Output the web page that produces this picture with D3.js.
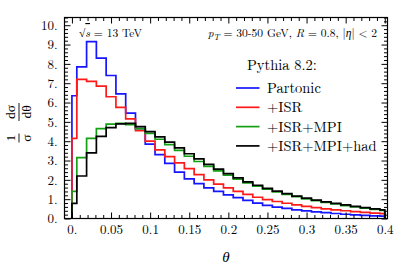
<!DOCTYPE html>
<html>
<head>
<meta charset="utf-8">
<script src="https://cdn.jsdelivr.net/npm/d3@7"></script>
<style>
  body { margin: 0; background: #fff; }
</style>
</head>
<body>
<svg id="chart"></svg>
<script>
const width = 399, height = 269;
const margin = { left: 64.5, right: 11.5, top: 17.5, bottom: 50.5 };
const lm = "'Latin Modern Roman'";   // text font
const greek = "'Liberation Serif'";  // LM has no greek letters

// bin centres (theta), bins are clipped to [0, 0.4] at both ends
const theta = [0, 0.0125, 0.025, 0.0375, 0.05, 0.0625, 0.075, 0.0875, 0.1, 0.1125,
  0.125, 0.1375, 0.15, 0.1625, 0.175, 0.1875, 0.2, 0.2125, 0.225, 0.2375, 0.25,
  0.2625, 0.275, 0.2875, 0.3, 0.3125, 0.325, 0.3375, 0.35, 0.3625, 0.375, 0.3875, 0.4];

const partonic = [6.35, 7.85, 9.15, 8.3, 7.4, 6.45, 5.45, 4.65, 3.85, 3.3, 2.85, 2.4,
  2.05, 1.8, 1.58, 1.4, 1.22, 1.08, 0.94, 0.8, 0.68, 0.59, 0.52, 0.45, 0.39, 0.34,
  0.3, 0.26, 0.22, 0.19, 0.16, 0.14, 0.12];
const isr = [4.15, 7.2, 7.1, 6.85, 6.3, 5.75, 5.15, 4.55, 4.0, 3.55, 3.2, 2.88, 2.58,
  2.27, 2.0, 1.78, 1.58, 1.4, 1.25, 1.1, 0.98, 0.88, 0.79, 0.71, 0.63, 0.56, 0.5,
  0.45, 0.4, 0.36, 0.32, 0.28, 0.25];
const isrMpi = [1.4, 3.15, 4.15, 4.65, 4.88, 4.92, 4.85, 4.65, 4.4, 4.1, 3.82, 3.52,
  3.22, 2.95, 2.7, 2.46, 2.24, 2.03, 1.84, 1.67, 1.52, 1.38, 1.25, 1.13, 1.02, 0.92,
  0.83, 0.75, 0.67, 0.6, 0.53, 0.47, 0.42];
const isrMpiHad = [0.78, 2.2, 3.4, 4.25, 4.7, 4.9, 4.92, 4.75, 4.5, 4.22, 3.95, 3.65,
  3.35, 3.08, 2.8, 2.55, 2.32, 2.1, 1.9, 1.72, 1.56, 1.42, 1.29, 1.16, 1.05, 0.95,
  0.86, 0.78, 0.7, 0.63, 0.56, 0.5, 0.45];

const seriesNames = ["Partonic", "+ISR", "+ISR+MPI", "+ISR+MPI+had"];
const seriesColors = ["#1515ff", "#ff1a1a", "#14a014", "#000000"];
const seriesValues = [partonic, isr, isrMpi, isrMpiHad];

const xMajor = [0, 0.05, 0.1, 0.15, 0.2, 0.25, 0.3, 0.35, 0.4];
const yMajor = [0, 1, 2, 3, 4, 5, 6, 7, 8, 9, 10];

const svg = d3.select("#chart").attr("width", width).attr("height", height)
  .attr("font-family", lm);

const x = d3.scaleLinear().domain([-0.0095, 0.4035])
  .range([margin.left, width - margin.right]);
const y = d3.scaleLinear().domain([0, 10.4])
  .range([height - margin.bottom, margin.top]);

// bin edges from the centres
const edges = [0];
for (let i = 0; i < theta.length - 1; i++) edges.push((theta[i] + theta[i + 1]) / 2);
edges.push(0.4);

const stepPoints = (vals) => {
  const pts = [[edges[0], 0]];
  vals.forEach((v, i) => { pts.push([edges[i], v]); pts.push([edges[i + 1], v]); });
  pts.push([edges[edges.length - 1], 0]);
  return pts;
};

const line = d3.line().x(d => x(d[0])).y(d => y(d[1]));

svg.append("g").selectAll("path")
  .data(seriesValues)
  .enter().append("path")
  .attr("d", d => line(stepPoints(d)))
  .attr("fill", "none")
  .attr("stroke", (d, i) => seriesColors[i])
  .attr("stroke-width", 1.7)
  .attr("stroke-linejoin", "miter");

// frame ticks, pointing inwards on all four sides
const xMinor = d3.range(0, 0.4001, 0.01).map(v => +v.toFixed(2)).filter(v => !xMajor.includes(v));
const yMinor = d3.range(0, 10.41, 0.2).map(v => +v.toFixed(1)).filter(v => !yMajor.includes(v));
const x0 = x.range()[0], x1 = x.range()[1], y0 = y.range()[0], y1 = y.range()[1];

const drawAxis = (axis, transform) => {
  const g = svg.append("g").attr("transform", transform).call(axis);
  g.select(".domain").remove();
  g.attr("font-family", lm).attr("font-size", 13);
  g.selectAll("text").attr("fill", "#000");
  g.selectAll("line").attr("stroke", "#000").attr("stroke-width", 1);
  return g;
};

drawAxis(d3.axisBottom(x).tickValues(xMajor).tickSize(-6).tickPadding(6)
  .tickFormat(d => d === 0 ? "0." : String(d)), `translate(0,${y0})`);
drawAxis(d3.axisBottom(x).tickValues(xMinor).tickSize(-3.5).tickFormat(""), `translate(0,${y0})`);
drawAxis(d3.axisTop(x).tickValues(xMajor).tickSize(-6).tickFormat(""), `translate(0,${y1})`);
drawAxis(d3.axisTop(x).tickValues(xMinor).tickSize(-3.5).tickFormat(""), `translate(0,${y1})`);
drawAxis(d3.axisLeft(y).tickValues(yMajor).tickSize(-6).tickPadding(7)
  .tickFormat(d => d + "."), `translate(${x0},0)`);
drawAxis(d3.axisLeft(y).tickValues(yMinor).tickSize(-3.5).tickFormat(""), `translate(${x0},0)`);
drawAxis(d3.axisRight(y).tickValues(yMajor).tickSize(-6).tickFormat(""), `translate(${x1},0)`);
drawAxis(d3.axisRight(y).tickValues(yMinor).tickSize(-3.5).tickFormat(""), `translate(${x1},0)`);

svg.append("rect")
  .attr("x", x0).attr("y", y1)
  .attr("width", x1 - x0).attr("height", y0 - y1)
  .attr("fill", "none").attr("stroke", "#000").attr("stroke-width", 1.2);

// x axis title
svg.append("text")
  .attr("x", (x0 + x1) / 2).attr("y", 262)
  .attr("text-anchor", "middle")
  .attr("font-family", greek)
  .attr("font-size", 15).attr("font-style", "italic")
  .text("θ");

// y axis title: (1/σ)(dσ/dθ)
const yt = svg.append("g").attr("transform", "translate(19,117) rotate(-90)");
const frac = (cx, num, den, w) => {
  yt.append("text").attr("x", cx).attr("y", -4).attr("text-anchor", "middle")
    .attr("font-size", 13.5).attr("font-family", greek).text(num);
  yt.append("line").attr("x1", cx - w / 2).attr("x2", cx + w / 2)
    .attr("y1", 0).attr("y2", 0).attr("stroke", "#000").attr("stroke-width", 0.9);
  yt.append("text").attr("x", cx).attr("y", 12).attr("text-anchor", "middle")
    .attr("font-size", 13.5).attr("font-family", greek).text(den);
};
frac(-21, "1", "σ", 9);
frac(5, "dσ", "dθ", 18);

// top annotations
const ann = svg.append("text").attr("x", 79).attr("y", 37).attr("font-size", 11.5);
ann.append("tspan").attr("font-family", greek).text("√");
ann.append("tspan").attr("font-style", "italic").style("text-decoration", "overline").text("s");
ann.append("tspan").text(" = 13 TeV");

const cuts = svg.append("text").attr("x", 377).attr("y", 37)
  .attr("text-anchor", "end").attr("font-size", 11.5);
cuts.append("tspan").attr("font-style", "italic").text("p");
cuts.append("tspan").attr("font-style", "italic").attr("font-size", 8.5).attr("dy", 2.5).text("T");
cuts.append("tspan").attr("dy", -2.5).text(" = 30-50 GeV, ");
cuts.append("tspan").attr("font-style", "italic").text("R");
cuts.append("tspan").text(" = 0.8, |");
cuts.append("tspan").attr("font-style", "italic").attr("font-family", greek).text("η");
cuts.append("tspan").text("| < 2");

// legend
svg.append("text").attr("x", 247).attr("y", 70)
  .attr("font-size", 14.5).text("Pythia 8.2:");

const legend = svg.append("g").selectAll("g")
  .data(seriesNames)
  .enter().append("g")
  .attr("transform", (d, i) => `translate(236,${88 + i * 19.3})`);
legend.append("line")
  .attr("x1", 0).attr("x2", 23.5)
  .attr("stroke", (d, i) => seriesColors[i])
  .attr("stroke-width", 1.7);
legend.append("text")
  .attr("x", 31).attr("y", 5)
  .attr("font-size", 14.5)
  .text(d => d);
</script>
</body>
</html>
